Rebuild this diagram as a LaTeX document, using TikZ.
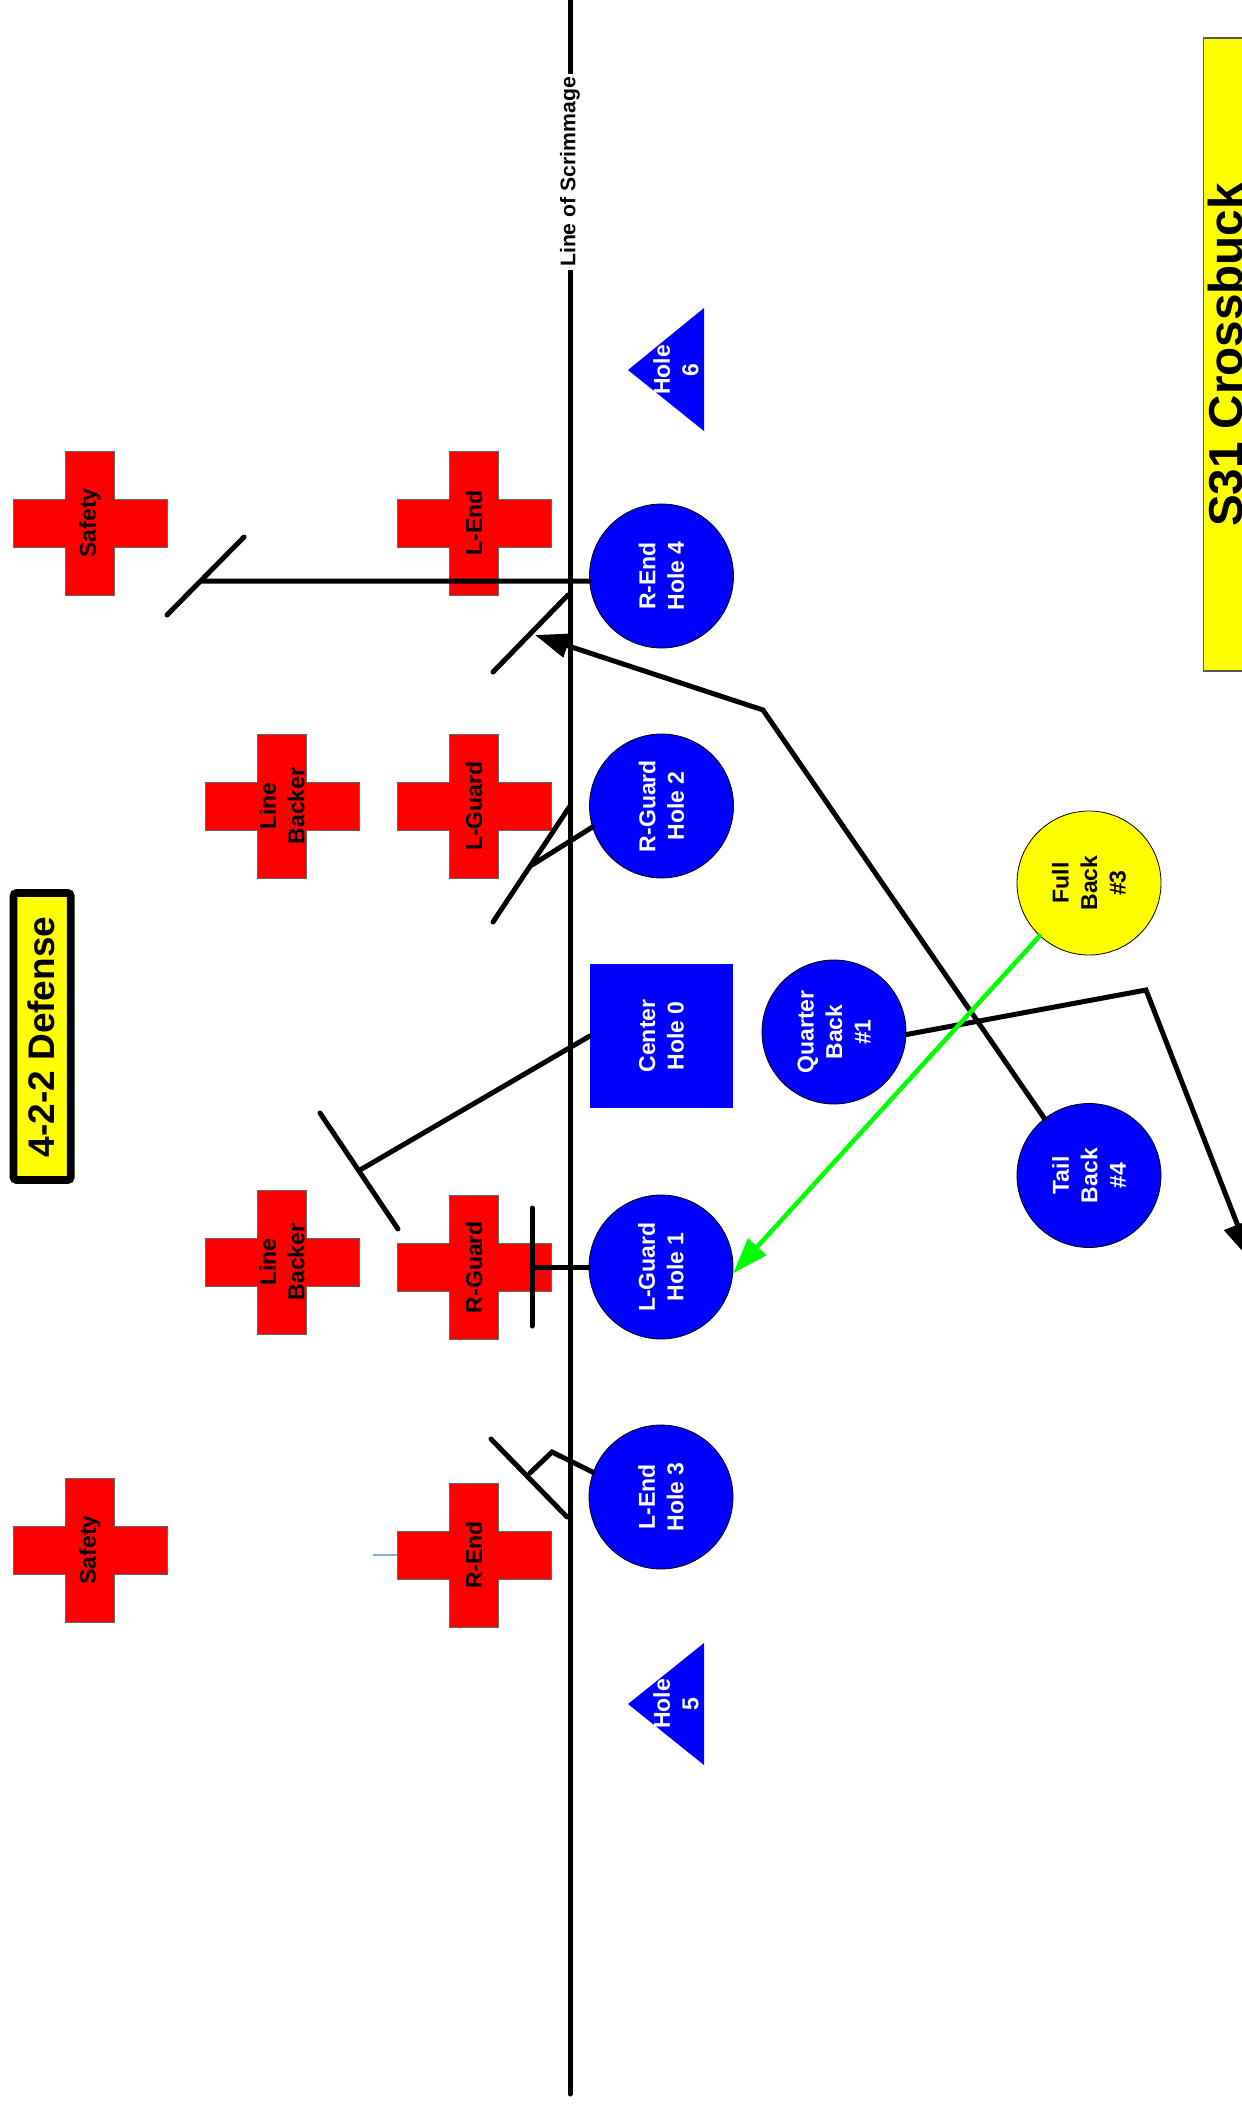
\documentclass[tikz,border=0pt]{standalone}
\usepackage{fontspec}
\setmainfont{Liberation Sans}
\usetikzlibrary{arrows.meta}
\definecolor{pblue}{RGB}{0,0,255}
\definecolor{pred}{RGB}{255,0,0}
\definecolor{pyellow}{RGB}{255,255,0}
\definecolor{pgreen}{RGB}{0,255,0}
\definecolor{tickblue}{RGB}{140,170,220}
\begin{document}
\begin{tikzpicture}[x=1pt,y=-1pt,
  every node/.style={inner sep=0pt},
  lbl/.style={font=\fontsize{23}{28.5}\selectfont\bfseries, align=center, rotate=90},
  offlbl/.style={lbl, text=white},
  deflbl/.style={lbl, text=black},
  player/.style={circle, minimum size=144pt, draw=black, line width=0.8pt, fill=pblue},
  route/.style={line width=5pt, line cap=round, line join=miter, draw=black},
  runtip/.style={-{Triangle[length=34pt,width=24pt]}},
  scrim/.style={line width=5pt, line cap=round},
  defender/.pic={
    \path[fill=pred, draw=black!60, line width=1pt]
      (-77,-24) -- (-24.5,-24) -- (-24.5,-72) -- (24.5,-72) -- (24.5,-24) -- (77,-24)
      -- (77,24) -- (24.5,24) -- (24.5,72) -- (-24.5,72) -- (-24.5,24) -- (-77,24) -- cycle;
  }
]
\useasboundingbox (0,0) rectangle (1242,2112);
\clip (0,0) rectangle (1242,2112);

% line of scrimmage
\coordinate (ltop) at (570,-5);
\coordinate (lbot) at (570,2094);
\draw[scrim] (ltop) -- (lbot);
\node[rotate=90, fill=white, font=\fontsize{21.2}{25}\selectfont\bfseries, inner xsep=3pt, inner ysep=1pt] (los) at (570,172) {Line of Scrimmage};

% title boxes
\draw[fill=pyellow, draw=black!65, line width=1.5pt] (1203.5,38) rectangle (1320,671);
\node[rotate=90, anchor=base, font=\fontsize{47.6}{56}\selectfont\bfseries] (title) at (1242.5,355) {S31 Crossbuck};
\draw[fill=pyellow, line width=7.7pt, rounded corners=3pt] (13.5,893) rectangle (70.7,1180);
\node[rotate=90, anchor=base, font=\fontsize{37}{44}\selectfont\bfseries] (defense) at (54.5,1037) {4-2-2 Defense};

% defenders
\pic at (90,523) {defender};
\node[deflbl] (safetyA) at (90,523) {Safety};
\pic at (474,523) {defender};
\node[deflbl] (lend) at (474,523) {L-End};
\pic at (282,806) {defender};
\node[deflbl] (lbA) at (282,806) {Line\\Backer};
\pic at (474,806) {defender};
\node[deflbl] (lguard) at (474,806) {L-Guard};
\pic at (282,1262) {defender};
\node[deflbl] (lbB) at (282,1262) {Line\\Backer};
\pic at (474,1267) {defender};
\node[deflbl] (rguard) at (474,1267) {R-Guard};
\pic at (90,1550) {defender};
\node[deflbl] (safetyB) at (90,1550) {Safety};
\pic at (474,1555) {defender};
\node[deflbl] (rend) at (474,1555) {R-End};
\coordinate (tickA) at (373,1555);
\coordinate (tickB) at (397,1555);
\draw[tickblue, line width=1.5pt] (tickA) -- (tickB);

% offense
\node[player] (re4) at (661.5,576) {};
\node[offlbl] (re4t) at (re4) {R-End\\Hole 4};
\node[player] (rg2) at (661.5,806) {};
\node[offlbl] (rg2t) at (rg2) {R-Guard\\Hole 2};
\node[rectangle, minimum width=143pt, minimum height=144pt, fill=pblue] (ctr) at (661.5,1036) {};
\node[offlbl] (ctrt) at (ctr) {Center\\Hole 0};
\node[player] (lg1) at (661,1267) {};
\node[offlbl] (lg1t) at (lg1) {L-Guard\\Hole 1};
\node[player] (le3) at (661,1497) {};
\node[offlbl] (le3t) at (le3) {L-End\\Hole 3};
\node[player] (qb) at (834,1032) {};
\node[offlbl] (qbt) at (qb) {Quarter\\Back\\\#1};
\node[player, fill=pyellow] (fb) at (1089,883) {};
\node[deflbl] (fbt) at (fb) {Full\\Back\\\#3};
\node[player] (tb) at (1089,1175.5) {};
\node[offlbl] (tbt) at (tb) {Tail\\Back\\\#4};

% holes
\fill[pblue] (704,308) -- (704,431) -- (628,370) -- cycle;
\node[offlbl] (h6) at (676,370) {Hole\\6};
\fill[pblue] (704,1643) -- (704,1765) -- (628,1704) -- cycle;
\node[offlbl] (h5) at (676,1704) {Hole\\5};

% blocks
\coordinate (bAm) at (202,581);
\coordinate (bA1) at (244,537);
\coordinate (bA2) at (167,615);
\draw[route] (re4.184) -- (bAm);
\draw[route] (bA1) -- (bA2);

\coordinate (bB1) at (568,595);
\coordinate (bB2) at (493,672);
\draw[route] (bB1) -- (bB2);

\coordinate (bCm) at (532,865);
\coordinate (bC1) at (570,806);
\coordinate (bC2) at (493,922);
\draw[route] (rg2.197) -- (bCm);
\draw[route] (bC1) -- (bC2);

\coordinate (bDm) at (360,1170);
\coordinate (bD1) at (320,1113);
\coordinate (bD2) at (398,1229);
\draw[route] (ctr.west) -- (bDm);
\draw[route] (bD1) -- (bD2);

\coordinate (bEm) at (532,1267);
\coordinate (bE1) at (532,1208);
\coordinate (bE2) at (532,1326);
\draw[route] (lg1.west) -- (bEm);
\draw[route] (bE1) -- (bE2);

\coordinate (bFk) at (552,1452);
\coordinate (bFm) at (530,1473);
\coordinate (bF1) at (491,1439);
\coordinate (bF2) at (567,1517);
\draw[route] (le3.160) -- (bFk) -- (bFm);
\draw[route] (bF1) -- (bF2);

% runs
\coordinate (tbk) at (763,710);
\coordinate (tbend) at (535,635);
\draw[route, runtip] (tb.128) -- (tbk) -- (tbend);

\coordinate (qbk) at (1146,990);
\coordinate (qbend) at (1252,1262);
\draw[route, -{Triangle[length=40pt,width=28pt]}] (qb.-2) -- (qbk) -- (qbend);

\draw[pgreen, line width=4.5pt, line cap=round, -{Triangle[length=36pt,width=24pt]}] (fb.227) -- (lg1.-5);
\end{tikzpicture}
\end{document}
